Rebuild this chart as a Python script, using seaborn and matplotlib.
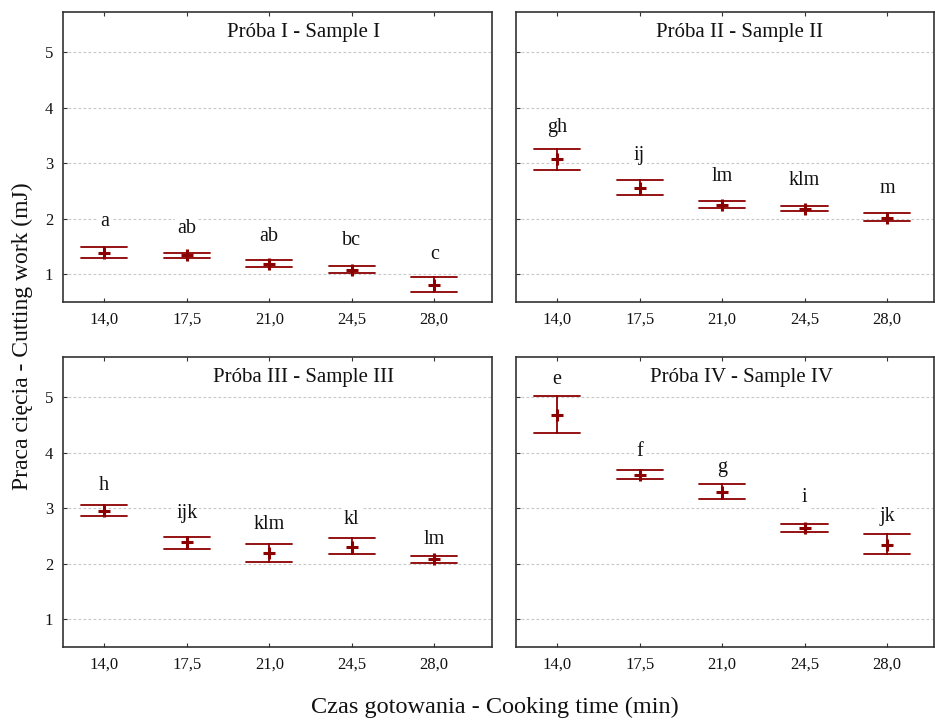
import numpy as np
import pandas as pd
import matplotlib
matplotlib.use("Agg")
import matplotlib.pyplot as plt
import seaborn as sns

times = ["14,0", "17,5", "21,0", "24,5", "28,0"]
panel_titles = ["Próba I - Sample I", "Próba II - Sample II",
                "Próba III - Sample III", "Próba IV - Sample IV"]

# means, lower and upper interval limits (mJ)
mean_I = [1.38, 1.34, 1.19, 1.08, 0.81]
low_I = [1.29, 1.30, 1.13, 1.025, 0.685]
up_I = [1.49, 1.385, 1.25, 1.145, 0.95]
letters_I = ["a", "ab", "ab", "bc", "c"]
lab_I = [1.86, 1.74, 1.59, 1.52, 1.28]

mean_II = [3.07, 2.55, 2.25, 2.18, 2.01]
low_II = [2.88, 2.435, 2.19, 2.14, 1.96]
up_II = [3.26, 2.69, 2.31, 2.22, 2.11]
letters_II = ["gh", "ij", "lm", "klm", "m"]
lab_II = [3.565, 3.06, 2.67, 2.61, 2.47]

mean_III = [2.94, 2.39, 2.20, 2.30, 2.08]
low_III = [2.86, 2.27, 2.03, 2.17, 2.015]
up_III = [3.05, 2.48, 2.35, 2.46, 2.135]
letters_III = ["h", "ijk", "klm", "kl", "lm"]
lab_III = [3.33, 2.83, 2.63, 2.71, 2.35]

mean_IV = [4.68, 3.59, 3.29, 2.65, 2.345]
low_IV = [4.35, 3.52, 3.16, 2.57, 2.18]
up_IV = [5.02, 3.68, 3.43, 2.72, 2.535]
letters_IV = ["e", "f", "g", "i", "jk"]
lab_IV = [5.24, 3.93, 3.65, 3.11, 2.76]

panels = [
    (mean_I, low_I, up_I, letters_I, lab_I),
    (mean_II, low_II, up_II, letters_II, lab_II),
    (mean_III, low_III, up_III, letters_III, lab_III),
    (mean_IV, low_IV, up_IV, letters_IV, lab_IV),
]

sns.set_theme(style="ticks")
plt.rcParams["font.family"] = ["Liberation Serif", "DejaVu Serif"]
plt.rcParams["axes.edgecolor"] = "#333333"

W, H = 935, 720
fig = plt.figure(figsize=(W / 100, H / 100), dpi=100)

# axes boxes in pixels: left, right, top, bottom
boxes = [(63, 492, 12, 302), (516, 934, 12, 302),
         (63, 492, 357, 647), (516, 934, 357, 647)]
title_x = [0.56, 0.535, 0.56, 0.54]
xmax = [4.7, 4.57, 4.7, 4.57]
red = "#8B0000"

for i, (box, (mn, lo, up, lets, laby)) in enumerate(zip(boxes, panels)):
    l, r, t, b = box
    ax = fig.add_axes([l / W, 1 - b / H, (r - l) / W, (b - t) / H])
    rows = []
    for tm, a, m, c in zip(times, lo, mn, up):
        for v in (a, m, c):
            rows.append({"time": tm, "value": v})
    df = pd.DataFrame(rows)
    sns.pointplot(data=df, x="time", y="value", order=times,
                  estimator="median", errorbar=("pi", 100),
                  capsize=0.56, linestyle="none", marker="+",
                  color=red, markersize=8, markeredgewidth=2.2,
                  err_kws={"linewidth": 1.3, "color": red},
                  ax=ax, zorder=3)
    ax.set_xlim(-0.5, xmax[i])
    ax.set_ylim(0.5, 5.72)
    ax.set_yticks([1, 2, 3, 4, 5])
    ax.set_xlabel("")
    ax.set_ylabel("")
    ax.set_axisbelow(True)
    ax.yaxis.grid(True, color="#c8c8c8", linestyle=(0, (2.5, 2)), linewidth=0.8)
    for s in ax.spines.values():
        s.set_visible(True)
        s.set_linewidth(1.2)
        s.set_color("#333333")
    ax.tick_params(axis="both", direction="in", length=3, width=0.8,
                   labelsize=12, pad=7, top=True, colors="#333333",
                   labelcolor="#111111")
    if i % 2 == 1:
        ax.tick_params(axis="y", labelleft=False)
    ax.text(title_x[i], 0.93, panel_titles[i], transform=ax.transAxes,
            ha="center", va="center", fontsize=15, color="#111111")
    for k, (lt, yb) in enumerate(zip(lets, laby)):
        ax.text(k, yb, lt, ha="center", va="baseline", fontsize=14.5,
                color="#111111", zorder=4,
                bbox=dict(facecolor="white", edgecolor="none", pad=1.5))

fig.text(22 / W, 1 - 336 / H, "Praca cięcia - Cutting work (mJ)", rotation=90,
         ha="center", va="center", fontsize=17, color="#111111")
fig.text(495 / W, 1 - 707 / H, "Czas gotowania - Cooking time (min)",
         ha="center", va="center", fontsize=17.5, color="#111111")

fig.savefig("out.png", dpi=100, facecolor="white")
